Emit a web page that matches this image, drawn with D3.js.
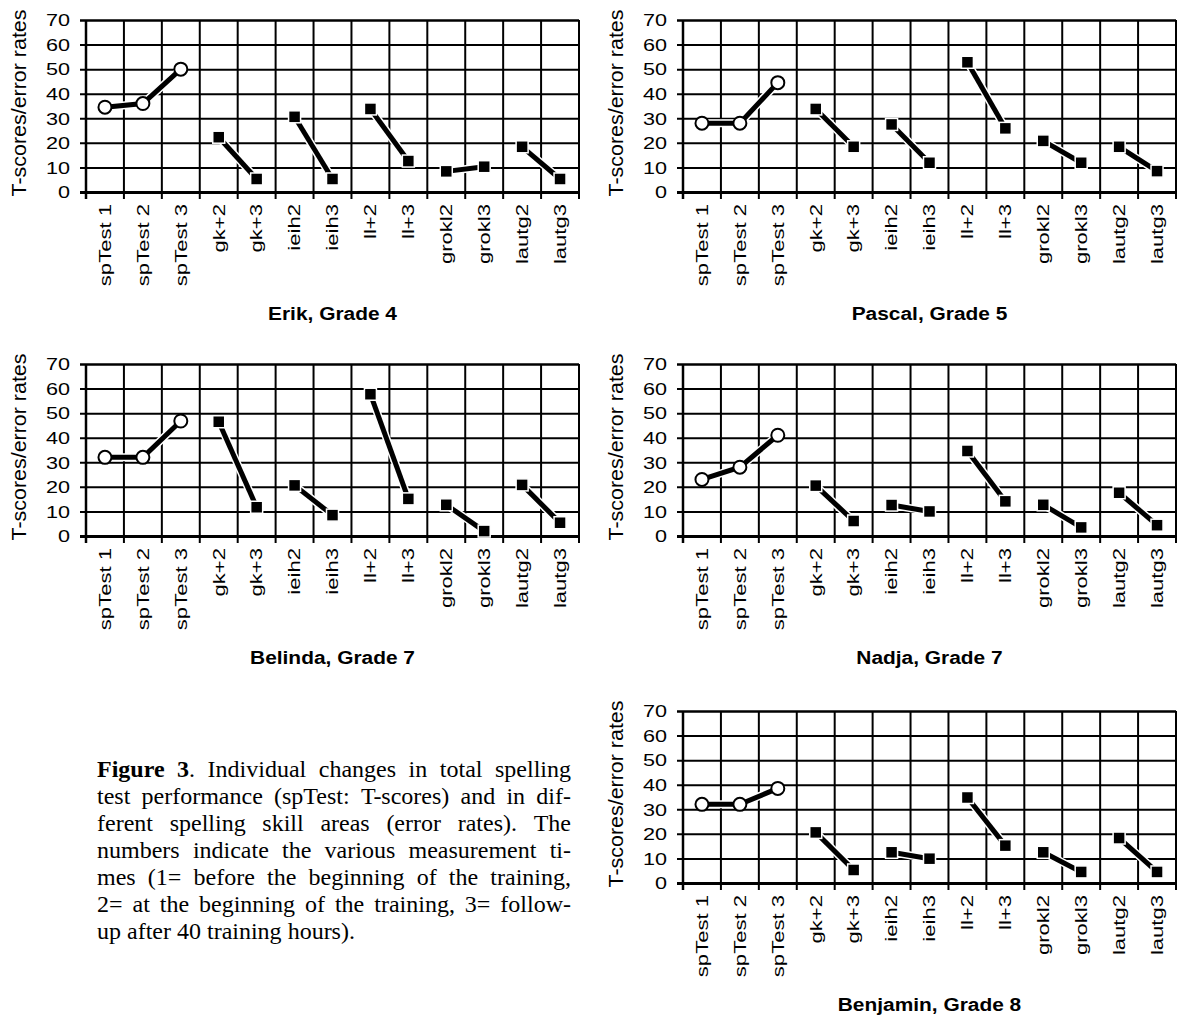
<!DOCTYPE html>
<html>
<head>
<meta charset="utf-8">
<script src="https://cdn.jsdelivr.net/npm/d3@7"></script>
<style>
body { margin: 0; background: #fff; }
svg { display: block; }
</style>
</head>
<body>
<svg width="1182" height="1019"></svg>
<script>
let categories = ["spTest 1", "spTest 2", "spTest 3", "gk+2", "gk+3", "ieih2", "ieih3",
                  "ll+2", "ll+3", "grokl2", "grokl3", "lautg2", "lautg3"];
let yTicks = [0, 10, 20, 30, 40, 50, 60, 70];

// connected groups of measurements (first one is the spelling test)
let groups = [["spTest 1", "spTest 2", "spTest 3"], ["gk+2", "gk+3"], ["ieih2", "ieih3"],
              ["ll+2", "ll+3"], ["grokl2", "grokl3"], ["lautg2", "lautg3"]];

let students = ["Erik, Grade 4", "Pascal, Grade 5", "Belinda, Grade 7", "Nadja, Grade 7", "Benjamin, Grade 8"];

let erik     = [34.5, 36, 50, 22.3, 5.3, 30.6, 5.3, 33.8, 12.6, 8.4, 10.3, 18.4, 5.3];
let pascal   = [28, 28, 44.5, 33.8, 18.4, 27.5, 11.9, 52.8, 25.9, 20.8, 11.9, 18.4, 8.5];
let belinda  = [32, 32, 46.8, 46.5, 11.7, 20.6, 8.5, 57.7, 15.1, 12.7, 2, 20.8, 5.4];
let nadja    = [23, 28, 41, 20.5, 6.1, 12.6, 10, 34.6, 14.1, 12.7, 3.5, 17.6, 4.4];
let benjamin = [32, 32, 38.5, 20.6, 5.3, 12.5, 9.9, 34.8, 15.2, 12.5, 4.5, 18.3, 4.5];
let studentValues = [erik, pascal, belinda, nadja, benjamin];

let captionLines = [
    "*Figure* *3*. Individual changes in total spelling",
    "test performance (spTest: T-scores) and in dif-",
    "ferent spelling skill areas (error rates). The",
    "numbers indicate the various measurement ti-",
    "mes (1= before the beginning of the training,",
    "2= at the beginning of the training, 3= follow-",
    "up after 40 training hours)."
];

let plotWidth = 493, plotHeight = 172;
let panelPos = [[86, 20], [683, 20], [86, 364], [683, 364], [683, 711]];
let sans = "'Liberation Sans', Arial, sans-serif";

let svg = d3.select("svg");
svg.append("rect").attr("width", 1182).attr("height", 1019).attr("fill", "#fff");

let xScale = d3.scaleBand().domain(categories).range([0, plotWidth]);
let yScale = d3.scaleLinear().domain([0, 70]).range([plotHeight, 0]);
let boundaries = categories.map(c => xScale(c)).concat([plotWidth]);

studentValues.forEach(function(values, p) {
    let g = svg.append("g").attr("transform", `translate(${panelPos[p]})`);
    let valueOf = c => values[categories.indexOf(c)];

    // horizontal grid + y ticks
    let yAxis = g.append("g")
        .call(d3.axisLeft(yScale).tickValues(yTicks).tickSize(6).tickPadding(0));
    yAxis.select(".domain").remove();
    yAxis.selectAll(".tick line").attr("x2", plotWidth).attr("x1", -6)
        .attr("stroke", "#000").attr("stroke-width", d => d == 0 ? 3 : (d == 70 ? 2.5 : 2));
    yAxis.selectAll(".tick text")
        .attr("x", null).attr("dy", "0.36em")
        .attr("transform", "translate(-16,0) scale(1.35,1)")
        .attr("font-family", sans).attr("font-size", 16).attr("fill", "#000");

    // vertical grid lines, extended below the axis as ticks
    g.selectAll(".vgrid")
        .data(boundaries)
        .enter()
        .append("line")
        .attr("x1", d => d).attr("x2", d => d)
        .attr("y1", 0).attr("y2", plotHeight + 7)
        .attr("stroke", "#000")
        .attr("stroke-width", (d, i) => i == 0 ? 2.5 : 2);

    // category labels
    let xAxis = g.append("g")
        .attr("transform", `translate(0, ${plotHeight})`)
        .call(d3.axisBottom(xScale).tickSize(0));
    xAxis.select(".domain").remove();
    xAxis.selectAll(".tick text")
        .attr("y", null).attr("dy", "0.36em")
        .attr("text-anchor", "end")
        .attr("transform", "translate(0,12) rotate(-90) scale(1.38,1)")
        .attr("font-family", sans).attr("font-size", 16).attr("fill", "#000");

    // y axis title
    g.append("text")
        .attr("transform", `translate(-60, ${plotHeight / 2 - 3}) rotate(-90) scale(1.1,1)`)
        .attr("text-anchor", "middle")
        .attr("font-family", sans).attr("font-size", 19.5)
        .text("T-scores/error rates");

    // panel title
    g.append("text")
        .attr("transform", `translate(${plotWidth / 2}, 300) scale(1.1,1)`)
        .attr("text-anchor", "middle")
        .attr("font-family", sans).attr("font-size", 19).attr("font-weight", "bold")
        .text(students[p]);

    let line = d3.line()
        .x(c => xScale(c) + xScale.bandwidth() / 2)
        .y(c => yScale(valueOf(c)));

    g.selectAll(".casing")
        .data(groups)
        .enter()
        .append("path")
        .attr("d", line)
        .attr("fill", "none").attr("stroke", "#fff").attr("stroke-width", 8);

    g.selectAll(".series")
        .data(groups)
        .enter()
        .append("path")
        .attr("d", line)
        .attr("fill", "none").attr("stroke", "#000").attr("stroke-width", 5);

    // spTest markers: open circles
    g.selectAll(".circ")
        .data(groups[0])
        .enter()
        .append("circle")
        .attr("cx", c => xScale(c) + xScale.bandwidth() / 2)
        .attr("cy", c => yScale(valueOf(c)))
        .attr("r", 6.5)
        .attr("fill", "#fff").attr("stroke", "#000").attr("stroke-width", 2);

    // skill area markers: filled squares
    g.selectAll(".sq")
        .data(d3.merge(groups.slice(1)))
        .enter()
        .append("rect")
        .attr("x", c => xScale(c) + xScale.bandwidth() / 2 - 6)
        .attr("y", c => yScale(valueOf(c)) - 6)
        .attr("width", 12).attr("height", 12)
        .attr("fill", "#000").attr("stroke", "#fff").attr("stroke-width", 1.5);
});

// caption, justified line by line
let captionLeft = 97, captionRight = 571, captionTop = 777, captionLeading = 27;
let serif = "'Liberation Serif', 'Times New Roman', serif";

captionLines.forEach(function(lineText, i) {
    let y = captionTop + i * captionLeading;
    let words = lineText.split(" ").map(function(w) {
        let t = svg.append("text")
            .attr("y", y)
            .attr("font-family", serif).attr("font-size", 24).attr("fill", "#000");
        w.split(/(\*[^*]+\*)/).filter(s => s.length).forEach(function(s) {
            let bold = s[0] == "*";
            t.append("tspan")
                .attr("font-weight", bold ? "bold" : "normal")
                .text(bold ? s.slice(1, -1) : s);
        });
        return t;
    });
    let widths = words.map(t => t.node().getComputedTextLength());
    let total = d3.sum(widths);
    let last = i == captionLines.length - 1;
    let gap = last ? 6 : (captionRight - captionLeft - total) / (words.length - 1);
    let x = captionLeft;
    words.forEach(function(t, k) {
        t.attr("x", x);
        x += widths[k] + gap;
    });
});
</script>
</body>
</html>
